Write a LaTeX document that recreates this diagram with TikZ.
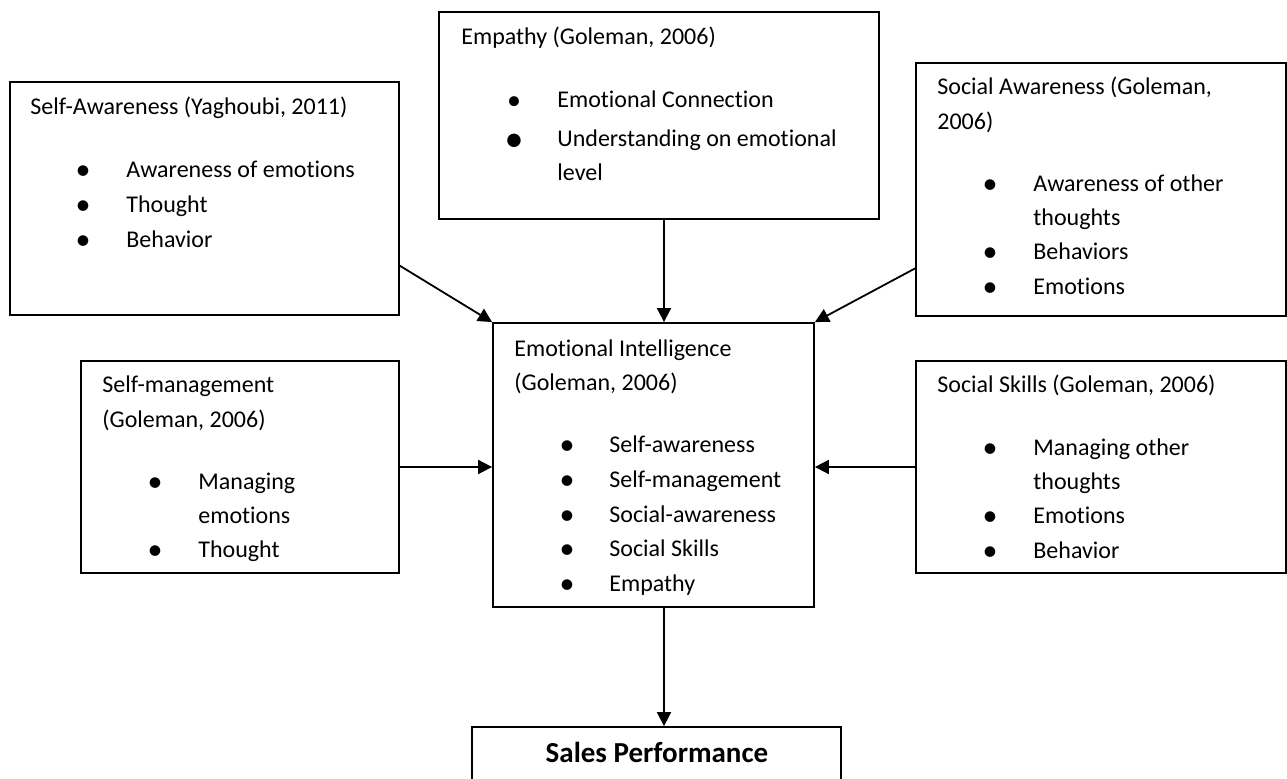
\documentclass[tikz,border=0pt]{standalone}
\usepackage{fontspec}
\setmainfont{Carlito}[RawFeature=-liga]
\usetikzlibrary{arrows.meta, fit}
\tikzset{
  panel/.style={draw, line width=0.9pt, inner sep=0pt},
  itemtext/.style={anchor=base west, inner sep=0pt, font=\fontsize{12}{14}\selectfont},
  link/.style={line width=0.9pt, -{Triangle[length=7pt, width=7pt]}}
}
% bullet row: [bullet size] name, bullet x, text x, baseline y, text
\newcommand{\bulletRow}[6][15]{
  \node[itemtext, anchor=base, yshift={-(#1-12)*0.3pt}] (#2b) at (#3,#5) {\fontsize{#1}{#1}\selectfont\textbullet};
  \node[itemtext] (#2) at (#4,#5) {#6};
}

\begin{document}
\begin{tikzpicture}[x=0.5pt, y=-0.5pt]
  \useasboundingbox (0,0) rectangle (1287,779);
  \clip (0,0) rectangle (1287,779);
  \coordinate (midx) at (664,0);

  % Self-Awareness
  \node[panel, fit={(10,82) (399,315)}] (selfaware) {};
  \node[itemtext] (selfawareT) at (30,115) {Self-Awareness (Yaghoubi, 2011)};
  \bulletRow{selfawareA}{83}{126}{178}{Awareness of emotions}
  \bulletRow{selfawareB}{83}{126}{213}{Thought}
  \bulletRow{selfawareC}{83}{126}{248}{Behavior}

  % Empathy
  \node[panel, fit={(439,12) (879,219)}] (empathy) {};
  \node[itemtext] (empathyT) at (461,45) {Empathy (Goleman, 2006)};
  \bulletRow[14]{empathyA}{514}{557}{108}{Emotional Connection}
  \bulletRow[19]{empathyB}{514}{557}{147}{Understanding on emotional}
  \node[itemtext] (empathyB2) at (557,181) {level};

  % Social Awareness
  \node[panel, fit={(916,63) (1286,316)}] (socaware) {};
  \node[itemtext] (socawareT) at (937,95) {Social Awareness (Goleman,};
  \node[itemtext] (socawareT2) at (937,130) {2006)};
  \bulletRow{socawareA}{990}{1033}{192}{Awareness of other}
  \node[itemtext] (socawareA2) at (1033,226) {thoughts};
  \bulletRow{socawareB}{990}{1033}{260}{Behaviors}
  \bulletRow{socawareC}{990}{1033}{295}{Emotions}

  % Self-management
  \node[panel, fit={(81,361) (399,573)}] (selfmgmt) {};
  \node[itemtext] (selfmgmtT) at (102,393) {Self-management};
  \node[itemtext] (selfmgmtT2) at (102,428) {(Goleman, 2006)};
  \bulletRow{selfmgmtA}{155}{198}{490}{Managing}
  \node[itemtext] (selfmgmtA2) at (198,524) {emotions};
  \bulletRow{selfmgmtB}{155}{198}{558}{Thought}

  % Emotional Intelligence
  \node[panel, fit={(493,323) (814,607)}] (ei) {};
  \node[itemtext] (eiT) at (514,357) {Emotional Intelligence};
  \node[itemtext] (eiT2) at (514,391) {(Goleman, 2006)};
  \bulletRow{eiA}{567}{609}{453}{Self-awareness}
  \bulletRow{eiB}{567}{609}{488}{Self-management}
  \bulletRow{eiC}{567}{609}{523}{Social-awareness}
  \bulletRow{eiD}{567}{609}{557}{Social Skills}
  \bulletRow{eiE}{567}{609}{592}{Empathy}

  % Social Skills
  \node[panel, fit={(916,361) (1286,573)}] (socskill) {};
  \node[itemtext] (socskillT) at (937,393) {Social Skills (Goleman, 2006)};
  \bulletRow{socskillA}{990}{1033}{456}{Managing other}
  \node[itemtext] (socskillA2) at (1033,490) {thoughts};
  \bulletRow{socskillB}{990}{1033}{524}{Emotions}
  \bulletRow{socskillC}{990}{1033}{559}{Behavior}

  % Sales Performance
  \node[panel, fit={(472,727) (841,820)}] (sales) {};
  \node[itemtext, anchor=base, font=\bfseries\fontsize{14.5}{17}\selectfont] (salesT) at (657,763) {Sales Performance};

  % connectors
  \draw[link] (selfaware.-19.7) -- (ei.north west);
  \draw[link] (empathy.south -| midx) -- (ei.north -| midx);
  \draw[link] (socaware.203) -- (ei.north east);
  \draw[link] (selfmgmt.east) -- (selfmgmt.east -| ei.west);
  \draw[link] (socskill.west) -- (socskill.west -| ei.east);
  \draw[link] (ei.south -| midx) -- (sales.north -| midx);
\end{tikzpicture}
\end{document}
